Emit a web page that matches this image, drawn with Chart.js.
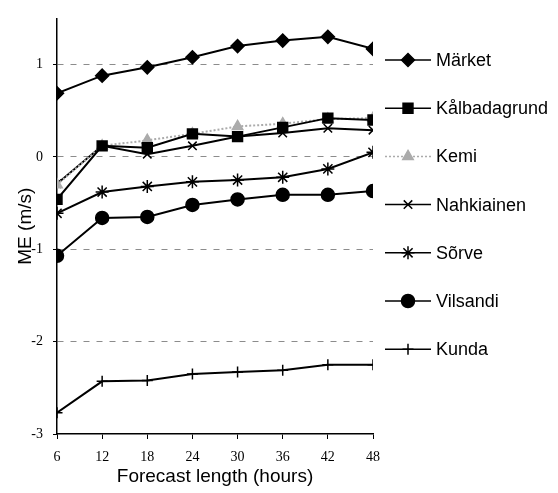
<!DOCTYPE html>
<html>
<head>
<meta charset="utf-8">
<script src="https://cdn.jsdelivr.net/npm/chart.js@4"></script>
<style>
  html, body { margin: 0; padding: 0; background: #fff; }
  #wrap { width: 558px; height: 493px; }
</style>
</head>
<body>
<div id="wrap"><canvas id="meChart"></canvas></div>
<script>
// forecast length (hours) and mean error (m/s) per station
const hours = [6, 12, 18, 24, 30, 36, 42, 48];
const yTicks = [-3, -2, -1, 0, 1];

const marketMe = [0.69, 0.88, 0.97, 1.08, 1.20, 1.26, 1.30, 1.17];
const kalbadagrundMe = [-0.46, 0.12, 0.10, 0.25, 0.22, 0.32, 0.42, 0.40];
const kemiMe = [-0.30, 0.12, 0.18, 0.25, 0.33, 0.36, 0.41, 0.42];
const nahkiainenMe = [-0.29, 0.12, 0.03, 0.12, 0.22, 0.26, 0.31, 0.29];
const sorveMe = [-0.61, -0.38, -0.32, -0.27, -0.25, -0.22, -0.13, 0.05];
const vilsandiMe = [-1.07, -0.66, -0.65, -0.52, -0.46, -0.41, -0.41, -0.37];
const kundaMe = [-2.77, -2.43, -2.42, -2.35, -2.33, -2.31, -2.25, -2.25];

const toPoints = (vals) => vals.map((v, i) => ({ x: hours[i], y: v }));

function series(label, vals, style, radius, color, dash) {
    return {
        label: label,
        data: toPoints(vals),
        borderColor: color || '#000',
        backgroundColor: color || '#000',
        borderWidth: 2,
        borderDash: dash || [],
        pointStyle: style,
        pointRadius: radius,
        pointBorderWidth: 1.5,
        pointBorderColor: color || '#000',
        pointBackgroundColor: color || '#000',
        tension: 0
    };
}

// legend drawn to the right: line + marker + name
const sideLegend = {
    id: 'sideLegend',
    afterDraw(chart) {
        const ctx = chart.ctx;
        const x0 = 385, x1 = 431, top = 60, gap = 48.2;
        chart.data.datasets.forEach((ds, i) => {
            const y = top + i * gap;
            ctx.save();
            ctx.strokeStyle = ds.borderColor;
            ctx.lineWidth = 1.5;
            ctx.setLineDash(ds.borderDash);
            ctx.beginPath();
            ctx.moveTo(x0, y);
            ctx.lineTo(x1, y);
            ctx.stroke();
            ctx.setLineDash([]);
            ctx.fillStyle = ds.pointBackgroundColor;
            ctx.strokeStyle = ds.pointBorderColor;
            ctx.lineWidth = ds.pointBorderWidth;
            Chart.helpers.drawPoint(ctx, {
                pointStyle: ds.pointStyle,
                radius: ds.pointRadius,
                rotation: 0,
                borderWidth: ds.pointBorderWidth
            }, (x0 + x1) / 2, y);
            ctx.fillStyle = '#000';
            ctx.font = '18px "Liberation Sans", Arial, sans-serif';
            ctx.textBaseline = 'middle';
            ctx.textAlign = 'left';
            ctx.fillText(ds.label, x1 + 5, y + 1);
            ctx.restore();
        });
    }
};

const ctx = document.getElementById('meChart').getContext('2d');

new Chart(ctx, {
    type: 'line',
    data: {
        datasets: [
            series('Märket', marketMe, 'rectRot', 6.5),
            series('Kålbadagrund', kalbadagrundMe, 'rect', 7),
            series('Kemi', kemiMe, 'triangle', 6, '#ababab', [2, 2]),
            series('Nahkiainen', nahkiainenMe, 'crossRot', 6),
            series('Sõrve', sorveMe, 'star', 6.5),
            series('Vilsandi', vilsandiMe, 'circle', 6.5),
            series('Kunda', kundaMe, 'cross', 5.5)
        ]
    },
    options: {
        responsive: true,
        maintainAspectRatio: false,
        animation: false,
        layout: {
            padding: { top: 10, right: 185, bottom: 0, left: 0 }
        },
        plugins: {
            legend: { display: false },
            tooltip: { enabled: false }
        },
        scales: {
            x: {
                type: 'linear',
                min: 6,
                max: 48,
                afterBuildTicks: (s) => { s.ticks = hours.map(v => ({ value: v })); },
                afterFit: (s) => { s.height = 59; },
                grid: {
                    drawOnChartArea: false,
                    drawTicks: true,
                    tickLength: 5,
                    tickColor: '#000'
                },
                border: { color: '#000', width: 1.5 },
                ticks: {
                    color: '#000',
                    padding: 10,
                    maxRotation: 0,
                    font: { family: '"Liberation Serif", "Times New Roman", serif', size: 14 }
                },
                title: {
                    display: true,
                    text: 'Forecast length (hours)',
                    color: '#000',
                    padding: { top: 0, bottom: 5 },
                    font: { family: '"Liberation Sans", Arial, sans-serif', size: 19 }
                }
            },
            y: {
                min: -3,
                max: 1.5,
                afterBuildTicks: (s) => { s.ticks = yTicks.map(v => ({ value: v })); },
                afterFit: (s) => { s.width = 57; },
                grid: {
                    color: (c) => (c.tick && c.tick.value === -3) ? 'rgba(0,0,0,0)' : '#8c8c8c',
                    lineWidth: 1,
                    tickLength: 4,
                    tickColor: '#000'
                },
                border: { color: '#000', width: 1.5, dash: [6, 7] },
                ticks: {
                    color: '#000',
                    padding: 10,
                    font: { family: '"Liberation Serif", "Times New Roman", serif', size: 14 }
                },
                title: {
                    display: true,
                    text: 'ME (m/s)',
                    color: '#000',
                    padding: { top: 14, bottom: 0 },
                    font: { family: '"Liberation Sans", Arial, sans-serif', size: 19 }
                }
            }
        }
    },
    plugins: [sideLegend]
});
</script>
</body>
</html>
